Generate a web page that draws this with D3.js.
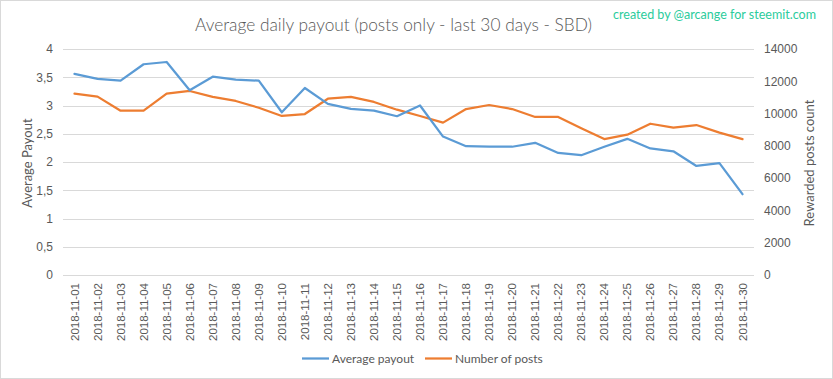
<!DOCTYPE html>
<html><head><meta charset="utf-8">
<script src="https://cdn.jsdelivr.net/npm/d3@7"></script>
<style>body{margin:0;background:#fff;}svg{display:block;font-family:Lato,"Open Sans",sans-serif;}</style>
</head><body><svg id="c" width="833" height="379"></svg>
<script>
const dates = ["2018-11-01","2018-11-02","2018-11-03","2018-11-04","2018-11-05","2018-11-06","2018-11-07","2018-11-08","2018-11-09","2018-11-10","2018-11-11","2018-11-12","2018-11-13","2018-11-14","2018-11-15","2018-11-16","2018-11-17","2018-11-18","2018-11-19","2018-11-20","2018-11-21","2018-11-22","2018-11-23","2018-11-24","2018-11-25","2018-11-26","2018-11-27","2018-11-28","2018-11-29","2018-11-30"];
const avgPayout = [3.56,3.47,3.44,3.73,3.77,3.27,3.51,3.46,3.44,2.88,3.31,3.03,2.94,2.91,2.81,3.0,2.45,2.28,2.27,2.27,2.34,2.16,2.12,2.27,2.41,2.24,2.19,1.93,1.98,1.43];
const numPosts = [11230,11050,10180,10180,11230,11400,11030,10780,10360,9850,9970,10920,11030,10720,10240,9850,9440,10280,10530,10280,9790,9790,9090,8420,8690,9370,9130,9290,8820,8420];
const leftTicks = [0,0.5,1,1.5,2,2.5,3,3.5,4];
const rightTicks = [0,2000,4000,6000,8000,10000,12000,14000];

const svg = d3.select("#c");
const txt = "#595959";
svg.append("rect").attr("x",0.5).attr("y",0.5).attr("width",832).attr("height",378).attr("fill","#fff").attr("stroke","#d9d9d9");

const L=63, R=754, T=49, B=275;
const x = d3.scaleBand().domain(dates).range([L,R]);
const yL = d3.scaleLinear().domain([0,4]).range([B,T]);
const yR = d3.scaleLinear().domain([0,14000]).range([B,T]);
const fmt = d => String(d).replace(".",",");

// gridlines
svg.append("g").selectAll("line").data(leftTicks).join("line")
  .attr("x1",L).attr("x2",R).attr("y1",d=>Math.round(yL(d))+0.5).attr("y2",d=>Math.round(yL(d))+0.5)
  .attr("stroke","#d9d9d9").attr("stroke-width",1);

// left axis
const ga = svg.append("g").attr("transform",`translate(${L-10},0)`)
  .call(d3.axisLeft(yL).tickValues(leftTicks).tickFormat(fmt).tickSize(0).tickPadding(0));
ga.select(".domain").remove();
ga.selectAll("text").attr("fill",txt).attr("font-size",12);

// right axis
const gr = svg.append("g").attr("transform",`translate(${R+10},0)`)
  .call(d3.axisRight(yR).tickValues(rightTicks).tickFormat(d3.format("d")).tickSize(0).tickPadding(0));
gr.select(".domain").remove();
gr.selectAll("text").attr("fill",txt).attr("font-size",12);

// x axis
const gx = svg.append("g").attr("transform",`translate(0,${B})`)
  .call(d3.axisBottom(x).tickSize(0).tickPadding(0));
gx.select(".domain").remove();
gx.selectAll("text").attr("fill",txt).attr("font-size",11.5)
  .attr("text-anchor","end").attr("dy","0.35em")
  .attr("transform","translate(0,8) rotate(-90)");

// lines
const lineL = d3.line().x((d,i)=>x(dates[i])+x.bandwidth()/2).y(d=>yL(d));
const lineR = d3.line().x((d,i)=>x(dates[i])+x.bandwidth()/2).y(d=>yR(d));
svg.append("path").datum(numPosts).attr("d",lineR).attr("fill","none").attr("stroke","#ed7d31").attr("stroke-width",2.25).attr("stroke-linejoin","round").attr("stroke-linecap","round");
svg.append("path").datum(avgPayout).attr("d",lineL).attr("fill","none").attr("stroke","#5b9bd5").attr("stroke-width",2.25).attr("stroke-linejoin","round").attr("stroke-linecap","round");

// title
svg.append("text").attr("x",195).attr("y",31).attr("fill",txt)
  .attr("font-size",17.5).attr("font-weight",300).attr("textLength",397).attr("lengthAdjust","spacingAndGlyphs")
  .text("Average daily payout (posts only - last 30 days - SBD)");
svg.append("text").attr("x",613).attr("y",18.5).attr("fill","#2bcc9c")
  .attr("font-size",12.5).attr("textLength",203).attr("lengthAdjust","spacingAndGlyphs")
  .text("created by @arcange for steemit.com");

// axis titles
svg.append("text").attr("transform","translate(32,163) rotate(-90)").attr("text-anchor","middle")
  .attr("fill",txt).attr("font-size",13).text("Average Payout");
svg.append("text").attr("transform","translate(814,163) rotate(-90)").attr("text-anchor","middle")
  .attr("fill",txt).attr("font-size",13).text("Rewarded posts count");

// legend
const leg = [{n:"Average payout",c:"#5b9bd5",x:302},{n:"Number of posts",c:"#ed7d31",x:425}];
const lg = svg.append("g");
leg.forEach(d=>{
  lg.append("line").attr("x1",d.x).attr("x2",d.x+27).attr("y1",358.5).attr("y2",358.5).attr("stroke",d.c).attr("stroke-width",2.25);
  lg.append("text").attr("x",d.x+30).attr("y",362.5).attr("fill",txt).attr("font-size",12).text(d.n);
});
</script></body></html>
